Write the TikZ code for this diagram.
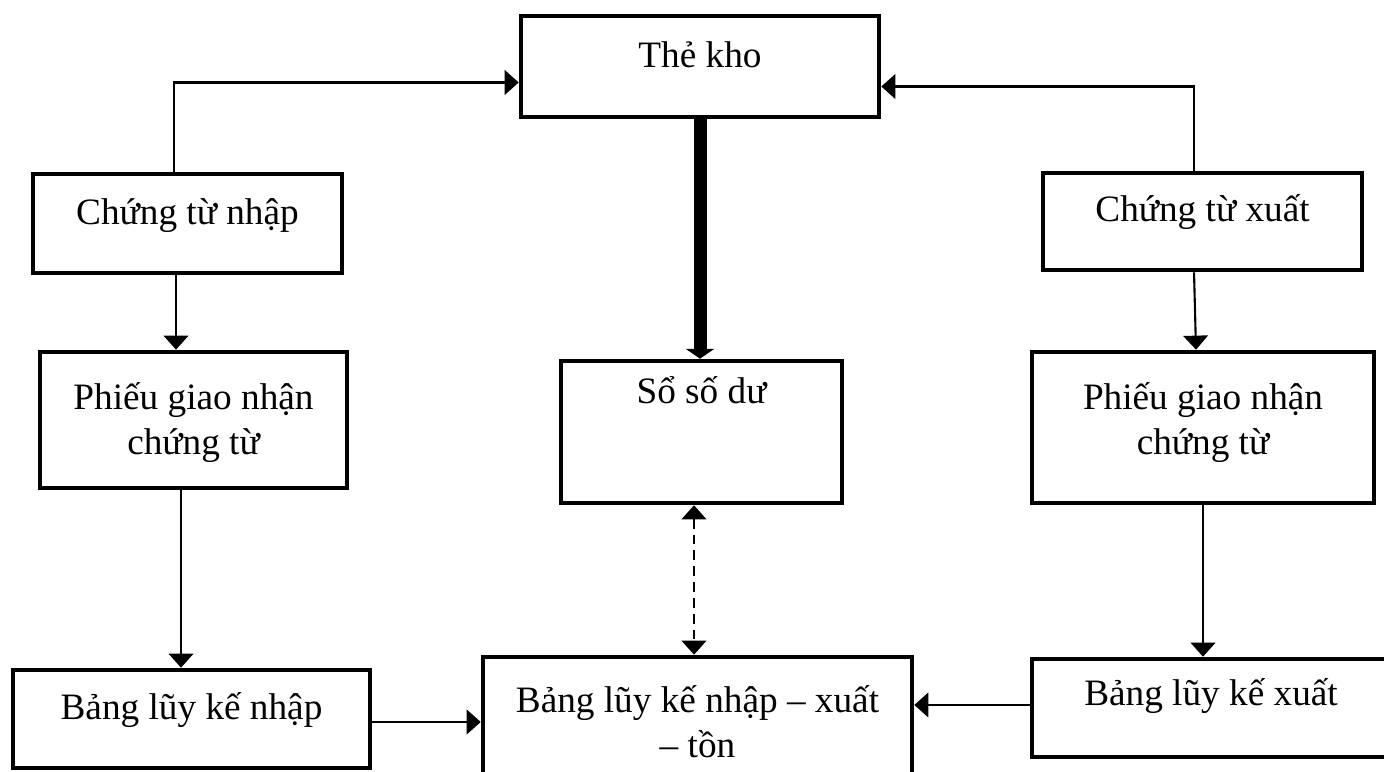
\documentclass[tikz,border=0pt]{standalone}
\usepackage{fontspec}
\setmainfont{Liberation Serif}
\usetikzlibrary{arrows.meta,positioning}
\begin{document}
\begin{tikzpicture}[
  box/.style={draw,line width=1.3pt,inner sep=0pt},
  lbl/.style={inner sep=0pt,align=center,anchor=base,font=\fontsize{10.6pt}{12.8pt}\selectfont},
  arr/.style={line width=0.6pt,-{Triangle[length=4pt,width=7pt]}},
  heavy/.style={line width=3.7pt,-{Triangle[length=2.8pt,width=8pt]}},
  dasharr/.style={line width=0.6pt,dash pattern=on 2.8pt off 1.7pt,{Triangle[length=4pt,width=7pt]}-{Triangle[length=4pt,width=7pt]}}
]
\useasboundingbox (0,0) rectangle (13.84,-7.72);
\clip (0,0) rectangle (13.84,-7.72);
% boxes
\node[box,minimum width=3.58cm,minimum height=1.01cm] (kho) at (7.00,-0.665) {};
\node[box,minimum width=3.09cm,minimum height=0.99cm] (ctn) at (1.875,-2.235) {};
\node[box,minimum width=3.19cm,minimum height=0.97cm] (ctx) at (12.025,-2.215) {};
\node[box,minimum width=3.07cm,minimum height=1.36cm] (pgn1) at (1.935,-4.20) {};
\node[box,minimum width=2.81cm,minimum height=1.42cm] (ssd) at (7.015,-4.32) {};
\node[box,minimum width=3.42cm,minimum height=1.51cm] (pgn2) at (12.03,-4.275) {};
\node[box,minimum width=3.57cm,minimum height=0.98cm] (lkn) at (1.915,-7.19) {};
\node[box,minimum width=4.29cm,minimum height=1.43cm] (nxt) at (6.975,-7.285) {};
\node[box,minimum width=3.58cm,minimum height=0.98cm] (lkx) at (12.11,-7.08) {};
% texts
\node[lbl] (khoT) at ([yshift=-5.4mm]kho.north) {Thẻ kho};
\node[lbl] (ctnT) at ([yshift=-5.3mm]ctn.north) {Chứng từ nhập};
\node[lbl] (ctxT) at ([yshift=-5.1mm]ctx.north) {Chứng từ xuất};
\node[lbl] (pgn1T) at ([yshift=-10.5mm]pgn1.north) {Phiếu giao nhận\\chứng từ};
\node[lbl] (ssdT) at ([yshift=-4.5mm]ssd.north) {Sổ số dư};
\node[lbl] (pgn2T) at ([yshift=-10.5mm]pgn2.north) {Phiếu giao nhận\\chứng từ};
\node[lbl] (lknT) at ([yshift=-5.2mm]lkn.north) {Bảng lũy kế nhập};
\node[lbl] (nxtT) at ([yshift=-10.3mm]nxt.north) {Bảng lũy kế nhập – xuất\\– tồn};
\node[lbl] (lkxT) at ([yshift=-4.9mm]lkx.north) {Bảng lũy kế xuất};
% connectors
\draw[arr] ([xshift=-1.35mm]ctn.north) |- ([yshift=-1.6mm]kho.west);
\draw[arr] ([xshift=-0.85mm]ctx.north) |- ([yshift=-2.0mm]kho.east);
\draw[heavy] (kho.south) -- (kho.south |- ssd.north);
\draw[arr] ([xshift=-1.15mm]ctn.south) -- ([xshift=-1.15mm]ctn.south |- pgn1.north);
\draw[arr] ([xshift=-1.25mm]pgn1.south) -- ([xshift=-1.25mm]pgn1.south |- lkn.north);
\draw[arr] ([xshift=-0.85mm]ctx.south) -- ([xshift=-0.7mm]pgn2.north);
\draw[arr] (pgn2.south) -- (pgn2.south |- lkx.north);
\draw[arr] ([yshift=-0.3mm]lkn.east) -- ([yshift=-0.3mm]lkn.east -| nxt.west);
\draw[arr] ([yshift=0.3mm]lkx.west) -- ([yshift=0.3mm]lkx.west -| nxt.east);
\draw[dasharr] ([xshift=-0.75mm]ssd.south) -- ([xshift=-0.75mm]ssd.south |- nxt.north);
\end{tikzpicture}
\end{document}
